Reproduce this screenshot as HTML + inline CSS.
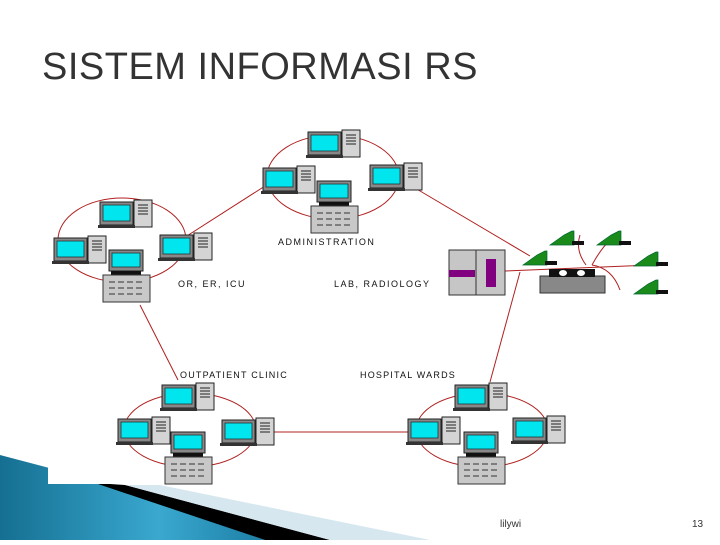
<!DOCTYPE html>
<html><head><style>
body{margin:0;width:720px;height:540px;overflow:hidden;background:#fff;font-family:"Liberation Sans",sans-serif}
</style></head><body>
<svg width="720" height="540" viewBox="0 0 720 540" xmlns="http://www.w3.org/2000/svg">
<defs>
<linearGradient id="bg" x1="0" y1="0" x2="1" y2="0"><stop offset="0" stop-color="#156f92"/><stop offset="0.6" stop-color="#3aa8cf"/><stop offset="1" stop-color="#1d7fa6"/></linearGradient>
<g id="ws">
<rect x="0" y="2" width="33" height="23" fill="#888" stroke="#222" stroke-width="1"/>
<rect x="3" y="5" width="27" height="16" fill="#00e5ee" stroke="#222" stroke-width="0.7"/>
<rect x="34" y="0" width="18" height="27" fill="#d4d4d4" stroke="#222" stroke-width="1"/>
<line x1="38" y1="5" x2="48" y2="5" stroke="#222"/><line x1="38" y1="8" x2="48" y2="8" stroke="#222"/><line x1="38" y1="11" x2="48" y2="11" stroke="#222"/><line x1="38" y1="14" x2="48" y2="14" stroke="#222"/>
<rect x="-2" y="25" width="37" height="3" fill="#333"/>
</g>
<g id="srv">
<rect x="6" y="0" width="34" height="21" fill="#888" stroke="#222"/>
<rect x="9" y="3" width="28" height="14" fill="#00e5ee" stroke="#222" stroke-width="0.7"/>
<rect x="8" y="21" width="30" height="4" fill="#111"/>
<rect x="0" y="25" width="47" height="27" fill="#c8c8c8" stroke="#333"/>
<line x1="6" y1="32" x2="40" y2="32" stroke="#333" stroke-dasharray="6,3"/>
<line x1="6" y1="38" x2="40" y2="38" stroke="#333" stroke-dasharray="6,3"/>
<line x1="6" y1="44" x2="40" y2="44" stroke="#333" stroke-dasharray="6,3"/>
</g>
<g id="ph"><polygon points="0,14 14,4 22,0 24,0 24,14" fill="#1a8a1a" stroke="#063" stroke-width="0.7"/><rect x="22" y="10" width="12" height="4" fill="#111"/></g>
</defs>
<text x="42" y="79" font-size="38" fill="#333" letter-spacing="0.5" font-family="Liberation Sans, sans-serif">SISTEM INFORMASI RS</text>
<polygon points="0,455 95,480 265,540 0,540" fill="url(#bg)"/>
<polygon points="95,483 125,485 330,540 265,540" fill="#000"/>
<polygon points="125,485 160,485 430,540 330,540" fill="#d6e7ef"/>
<rect x="48" y="440" width="660" height="44" fill="#fff"/>
<g fill="none" stroke="#b02020" stroke-width="1">
<line x1="290" y1="170" x2="165" y2="250"/>
<line x1="415" y1="188" x2="530" y2="256"/>
<line x1="140" y1="305" x2="178" y2="380"/>
<line x1="520" y1="272" x2="490" y2="382"/>
<line x1="262" y1="432" x2="410" y2="432"/>
<line x1="505" y1="271" x2="650" y2="265"/>
<ellipse cx="333" cy="177" rx="66" ry="42"/>
<ellipse cx="122" cy="240" rx="64" ry="42"/>
<ellipse cx="190" cy="430" rx="66" ry="37"/>
<ellipse cx="482" cy="430" rx="66" ry="37"/>
<path d="M586,265 Q575,250 580,235 M592,265 Q600,250 610,240 M592,265 Q612,268 620,290"/>
</g>
<use href="#ws" x="308" y="130"/><use href="#ws" x="263" y="166"/><use href="#ws" x="370" y="163"/><use href="#srv" x="311" y="181"/>
<text x="278" y="245" font-size="9" letter-spacing="1.5" fill="#111">ADMINISTRATION</text>
<use href="#ws" x="100" y="200"/><use href="#ws" x="54" y="236"/><use href="#ws" x="160" y="233"/><use href="#srv" x="103" y="250"/>
<text x="178" y="287" font-size="9" letter-spacing="1.5" fill="#111">OR, ER, ICU</text>
<text x="334" y="287" font-size="9" letter-spacing="1.5" fill="#111">LAB, RADIOLOGY</text>
<rect x="449" y="250" width="56" height="45" fill="#c6c6c6" stroke="#333"/>
<line x1="476" y1="250" x2="476" y2="295" stroke="#333"/>
<rect x="449" y="270" width="26" height="7" fill="#800080"/>
<rect x="486" y="259" width="10" height="28" fill="#800080"/>
<rect x="540" y="276" width="65" height="17" fill="#888" stroke="#333"/>
<rect x="549" y="269" width="46" height="8" fill="#111"/>
<ellipse cx="563" cy="273" rx="4" ry="3" fill="#fff"/><ellipse cx="581" cy="273" rx="4" ry="3" fill="#fff"/>
<use href="#ph" x="523" y="251"/><use href="#ph" x="550" y="231"/><use href="#ph" x="597" y="231"/><use href="#ph" x="634" y="252"/><use href="#ph" x="634" y="280"/>
<text x="180" y="378" font-size="9" letter-spacing="1.2" fill="#111">OUTPATIENT CLINIC</text>
<text x="360" y="378" font-size="9" letter-spacing="1.2" fill="#111">HOSPITAL WARDS</text>
<use href="#ws" x="162" y="383"/><use href="#ws" x="118" y="417"/><use href="#ws" x="222" y="418"/><use href="#srv" x="165" y="432"/>
<use href="#ws" x="455" y="383"/><use href="#ws" x="408" y="417"/><use href="#ws" x="513" y="416"/><use href="#srv" x="458" y="432"/>
<text x="500" y="527" font-size="10" fill="#333">lilywi</text>
<text x="692" y="527" font-size="10" fill="#333">13</text>
</svg>
</body></html>
